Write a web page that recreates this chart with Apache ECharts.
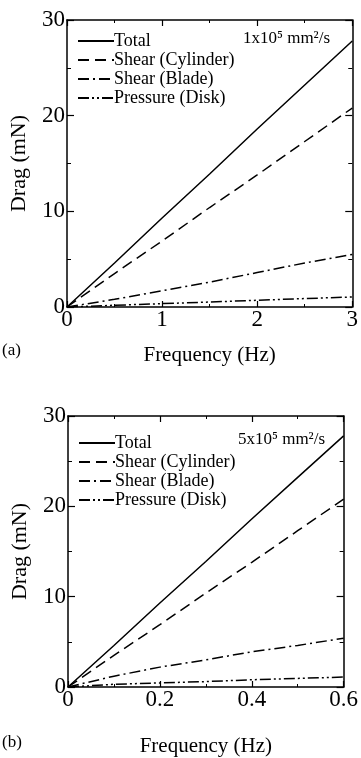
<!DOCTYPE html>
<html><head><meta charset="utf-8">
<script src="https://cdn.jsdelivr.net/npm/echarts@6/dist/echarts.min.js"></script>
<style>html,body{margin:0;padding:0;background:#fff}#c{width:361px;height:758px}</style>
</head><body><div id="c"></div>
<script>
// Panel (a): 1x10^5 mm^2/s
const freqA = [0, 0.5, 1, 1.5, 2, 2.5, 3];
const totalA = [0, 4.6, 9.3, 13.9, 18.6, 23.2, 27.8];
const cylA = [0, 3.5, 6.9, 10.4, 13.8, 17.3, 20.8];
const bladeA = [0, 0.8, 1.7, 2.6, 3.6, 4.6, 5.5];
const pressA = [0, 0.18, 0.35, 0.52, 0.7, 0.88, 1.05];
// Panel (b): 5x10^5 mm^2/s
const freqB = [0, 0.1, 0.2, 0.3, 0.4, 0.5, 0.6];
const totalB = [0, 4.6, 9.3, 13.9, 18.6, 23.2, 27.8];
const cylB = [0, 3.5, 6.9, 10.4, 13.8, 17.3, 20.8];
const bladeB = [0, 1.2, 2.2, 3.0, 3.9, 4.6, 5.4];
const pressB = [0, 0.3, 0.45, 0.6, 0.8, 0.95, 1.1];
const seriesNames = ['Total', 'Shear (Cylinder)', 'Shear (Blade)', 'Pressure (Disk)'];
const annotA = '1x10\u2075 mm\u00b2/s';
const annotB = '5x10\u2075 mm\u00b2/s';

const FONT = '"Liberation Serif","DejaVu Serif",serif';
const dashes = ['solid', [11, 6], [11, 4, 2, 4], [11, 3, 2, 3, 2, 3]];

function pairs(xs, ys) { return xs.map((x, i) => [x, ys[i]]); }

function mkSeries(gi, xs, ys_list) {
  return ys_list.map((ys, k) => ({
    name: seriesNames[k], type: 'line', xAxisIndex: gi * 2, yAxisIndex: gi * 2,
    data: pairs(xs, ys), symbol: 'none', smooth: false, silent: true,
    lineStyle: { color: '#000', width: 1.5, type: dashes[k] },
    itemStyle: { color: '#000' }
  }));
}

function xAx(gi, max, interval, pos, show) {
  return {
    type: 'value', gridIndex: gi, min: 0, max: max, interval: interval, position: pos,
    name: show ? 'Frequency (Hz)' : '', nameLocation: 'middle', nameGap: gi === 0 ? 38 : 49,
    nameTextStyle: { fontFamily: FONT, fontSize: 21, color: '#000' },
    axisLine: { show: true, onZero: false, lineStyle: { color: '#000', width: 1.5 } },
    axisTick: { show: true, inside: true, length: 6, lineStyle: { color: '#000', width: 1.2 } },
    minorTick: { show: true, splitNumber: 2, length: 3, lineStyle: { color: '#000', width: 1 } },
    axisLabel: { show: show, fontFamily: FONT, fontSize: 23, color: '#000', margin: 1 },
    splitLine: { show: false }
  };
}
function yAx(gi, pos, show) {
  return {
    type: 'value', gridIndex: gi, min: 0, max: 30, interval: 10, position: pos,
    name: show ? 'Drag (mN)' : '', nameLocation: 'middle', nameGap: 37,
    nameTextStyle: { fontFamily: FONT, fontSize: 22, color: '#000' },
    axisLine: { show: true, onZero: false, lineStyle: { color: '#000', width: 1.5 } },
    axisTick: { show: true, inside: true, length: 7, lineStyle: { color: '#000', width: 1.2 } },
    minorTick: { show: true, splitNumber: 2, length: 4, lineStyle: { color: '#000', width: 1 } },
    axisLabel: { show: show, fontFamily: FONT, fontSize: 23, color: '#000', margin: 2 },
    splitLine: { show: false }
  };
}
function legend(left, top) {
  return {
    left: left, top: top, orient: 'vertical', itemWidth: 36, itemHeight: 10, itemGap: 1,
    selectedMode: false, data: seriesNames, padding: 0,
    textStyle: { fontFamily: FONT, fontSize: 18, lineHeight: 17, color: '#000', padding: [0, 0, 0, -5] },
    itemStyle: { opacity: 0 }
  };
}

const chart = echarts.init(document.getElementById('c'), null, { renderer: 'canvas' });
chart.setOption({
  backgroundColor: '#fff',
  animation: false,
  grid: [
    { left: 67, right: 6, top: 20, height: 287 },
    { left: 68, right: 14, top: 416, height: 279 }
  ],
  xAxis: [xAx(0, 3, 1, 'bottom', true), xAx(0, 3, 1, 'top', false),
          xAx(1, 0.6, 0.2, 'bottom', true), xAx(1, 0.6, 0.2, 'top', false)],
  yAxis: [yAx(0, 'left', true), yAx(0, 'right', false),
          yAx(1, 'left', true), yAx(1, 'right', false)],
  legend: [legend(77, 32), legend(78, 434)],
  series: [].concat(mkSeries(0, freqA, [totalA, cylA, bladeA, pressA]),
                    mkSeries(1, freqB, [totalB, cylB, bladeB, pressB])),
  graphic: [
    { type: 'text', left: 243, top: 30, style: { text: annotA, font: '17px ' + FONT, fill: '#000' } },
    { type: 'text', left: 238, top: 431, style: { text: annotB, font: '17px ' + FONT, fill: '#000' } },
    { type: 'text', left: 2, top: 342, style: { text: '(a)', font: '17px ' + FONT, fill: '#000' } },
    { type: 'text', left: 2, top: 734, style: { text: '(b)', font: '17px ' + FONT, fill: '#000' } }
  ]
});
</script></body></html>
